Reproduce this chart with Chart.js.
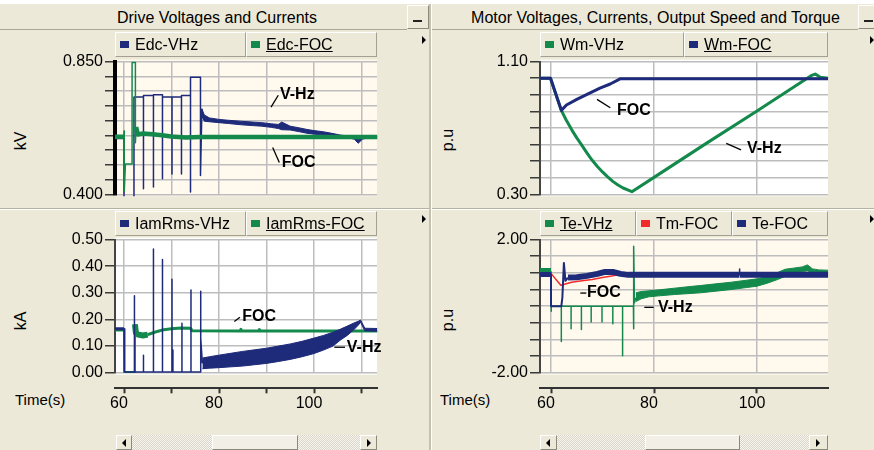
<!DOCTYPE html>
<html>
<head>
<meta charset="utf-8">
<title>Drive Voltages and Currents</title>
<script src="https://cdn.jsdelivr.net/npm/chart.js@4.4.1/dist/chart.umd.min.js"></script>
<style>
  html, body { margin: 0; padding: 0; background: #fff; }
  #frame {
    position: relative; width: 874px; height: 450px; overflow: hidden;
    background: #ECE9D8; color: #000;
    font-family: "Liberation Sans", Arial, sans-serif; font-size: 16px;
  }
  #frame > * { position: absolute; }
  .strip { left: 0; top: 0; width: 874px; height: 4px; background: #fff; }
  .bar { top: 4px; height: 25px; border-bottom: 1px solid #A9A695; }
  .caption { top: 8px; height: 20px; line-height: 20px; text-align: center; white-space: nowrap; }
  .btn { box-sizing: border-box; border: 1px solid; border-color: #fff #8D8A7C #8D8A7C #fff; background: #ECE9D8; }
  .minus { top: 5px; height: 24px; }
  .minus::after { content: ""; position: absolute; left: 5px; top: 14px; width: 9px; height: 2px; background: #222; }
  .vdiv { top: 4px; height: 446px; width: 2px; background: #C4C1B0; border-right: 1px solid #fff; }
  .hdiv { left: 0; width: 874px; height: 1px; background: #B5B2A2; border-bottom: 1px solid #fff; }
  .leg { box-sizing: border-box; height: 25px; border: 1px solid; border-color: #fff #A3A092 #A3A092 #fff; white-space: nowrap; }
  .leg i { position: absolute; left: 4px; top: 8px; width: 9px; height: 7px; }
  .leg span { position: absolute; left: 19px; top: 1px; line-height: 21px; }
  .menu { width: 0; height: 0; border-top: 4px solid transparent; border-bottom: 4px solid transparent; border-left: 4px solid #000; }
  .ytitle { width: 40px; height: 20px; line-height: 20px; text-align: center; transform: rotate(-90deg); }
  .time { font-size: 15px; line-height: 20px; }
  .scroll { top: 435px; height: 15px; background: repeating-conic-gradient(#F7F6F1 0 25%, #D9D6C9 0 50%) 0 0 / 2px 2px; }
  .scroll > div { position: absolute; top: 0; height: 15px; }
  .thumb { background: #F2F0E6 !important; }
  .arrow { position: absolute; top: 3px; width: 0; height: 0; border-top: 4px solid transparent; border-bottom: 4px solid transparent; }
  .arrow.l { left: 5px; border-right: 4px solid #000; }
  .arrow.r { left: 6px; border-left: 4px solid #000; }
</style>
</head>
<body>
<div id="frame">
  <div class="strip"></div>
  <div class="bar" style="left:0;width:407px"></div>
  <div class="bar" style="left:432px;width:426px"></div>
  <div class="caption" style="left:0;width:434px">Drive Voltages and Currents</div>
  <div class="caption" style="left:432px;width:447px">Motor Voltages, Currents, Output Speed and Torque</div>
  <div class="btn minus" style="left:407px;width:22px"></div>
  <div class="btn minus" style="left:858px;width:20px"></div>
  <div class="hdiv" style="top:208px"></div>
  <div class="vdiv" style="left:429px"></div>

  <div class="menu" style="left:422px;top:36px"></div>
  <div class="menu" style="left:422px;top:215px"></div>
  <div class="menu" style="left:870px;top:36px"></div>
  <div class="menu" style="left:870px;top:215px"></div>

  <div class="ytitle" style="left:1px;top:131px">kV</div>
  <div class="ytitle" style="left:1px;top:311px">kA</div>
  <div class="ytitle" style="left:428px;top:130px">p.u</div>
  <div class="ytitle" style="left:428px;top:310px">p.u</div>

  <div class="time" style="left:15px;top:390px">Time(s)</div>
  <div class="time" style="left:440px;top:390px">Time(s)</div>

  <div class="scroll" style="left:116px;width:261px">
    <div class="btn" style="left:0;width:16px"><b class="arrow l"></b></div>
    <div class="btn thumb" style="left:96px;width:86px"></div>
    <div class="btn" style="left:244px;width:17px"><b class="arrow r"></b></div>
  </div>
  <div class="scroll" style="left:540px;width:288px">
    <div class="btn" style="left:0;width:17px"><b class="arrow l"></b></div>
    <div class="btn thumb" style="left:105px;width:95px"></div>
    <div class="btn" style="left:269px;width:19px"><b class="arrow r"></b></div>
  </div>

  <canvas id="cEdc" width="432" height="158" style="left:0;top:50px"></canvas>
  <canvas id="cWm" width="442" height="158" style="left:432px;top:50px"></canvas>
  <canvas id="cIam" width="432" height="192" style="left:0;top:228px"></canvas>
  <canvas id="cTe" width="442" height="192" style="left:432px;top:228px"></canvas>
</div>

<script>
const FONT = "'Liberation Sans', Arial, sans-serif";
const NAVY = '#1E2A7A';
const GREEN = '#14894C';
const RED = '#F22A2A';
const GRID = '#BDBDBD';

Chart.defaults.font.family = FONT;
Chart.defaults.font.size = 16;
Chart.defaults.color = '#000';

// ---- axes ----
const leftGridT = [60, 70, 80, 90, 100, 110];
const leftTimeLabels = ['60', '', '80', '', '100', ''];
const rightGridT = [60, 80, 100];
const rightTimeLabels = ['60', '80', '100'];

const edcTicks = [0.40, 0.45, 0.50, 0.55, 0.60, 0.65, 0.70, 0.75, 0.80, 0.85];
const edcTickLabels = ['0.400', '', '', '', '', '', '', '', '', '0.850'];
const iamTicks = [0, 0.1, 0.2, 0.3, 0.4, 0.5];
const iamTickLabels = ['0.00', '0.10', '0.20', '0.30', '0.40', '0.50'];
const wmTicks = [0.3, 0.4, 0.5, 0.6, 0.7, 0.8, 0.9, 1.0, 1.1];
const wmTickLabels = ['0.30', '', '', '', '', '', '', '', '1.10'];
const teTicks = [-2, -1.5, -1, -0.5, 0, 0.5, 1, 1.5, 2];
const teTickLabels = ['-2.00', '', '', '', '', '', '', '', '2.00'];

const edcLegend = ['Edc-VHz', 'Edc-FOC'];
const iamLegend = ['IamRms-VHz', 'IamRms-FOC'];
const wmLegend = ['Wm-VHz', 'Wm-FOC'];
const teLegend = ['Te-VHz', 'Tm-FOC', 'Te-FOC'];

// ---- Edc (kV) ----
const edcVhz = [[58.1, 0.592], [60.0, 0.592], [60.0, 0.38], [62.1, 0.38], [62.1, 0.730], [64.1, 0.730],
  [64.1, 0.419], [64.1, 0.735], [66.2, 0.735], [66.2, 0.425], [66.2, 0.738], [68.1, 0.738],
  [68.1, 0.453], [68.1, 0.730], [70.1, 0.730], [70.1, 0.469], [70.1, 0.730], [72.1, 0.730],
  [72.1, 0.469], [72.1, 0.735], [74.0, 0.735], [74.0, 0.408], [74.0, 0.797], [76.1, 0.797],
  [76.1, 0.464], [76.4, 0.690]];
const edcVhzBandT = [76.4, 76.9, 78, 80, 82, 84.5, 87, 89, 91, 92.5, 93.2, 95, 97, 98.5, 100, 102, 104, 105.5, 107, 108.5, 109.3, 110.2, 111, 113.3];
const edcVhzBandHi = [0.690, 0.669, 0.659, 0.654, 0.651, 0.648, 0.645, 0.643, 0.639, 0.637, 0.645, 0.631, 0.625, 0.620, 0.616, 0.612, 0.606, 0.601, 0.598, 0.594, 0.585, 0.594, 0.596, 0.596];
const edcVhzBandLo = [0.665, 0.648, 0.646, 0.643, 0.640, 0.636, 0.633, 0.631, 0.627, 0.623, 0.619, 0.618, 0.612, 0.607, 0.604, 0.601, 0.598, 0.595, 0.592, 0.587, 0.573, 0.587, 0.590, 0.590];
const edcFoc = [[58.1, 0.595], [59.95, 0.595], [60.0, 0.615], [60.05, 0.410], [60.3, 0.503], [61.7, 0.503],
  [61.7, 0.847], [62.4, 0.847], [62.4, 0.575], [62.55, 0.628], [62.9, 0.603], [64, 0.606], [66, 0.604],
  [68, 0.600], [70, 0.596], [73, 0.593], [76, 0.594], [113.3, 0.594]];

// ---- IamRms (kA) ----
const iamVhz = [[58.1, 0.165], [60.0, 0.165], [60.0, 0.003], [60.2, 0.003], [60.2, 0.065], [60.2, 0.003],
  [62.2, 0.003], [62.2, 0.289], [62.2, 0.003], [64.1, 0.003], [64.1, 0.066], [64.1, 0.003],
  [66.2, 0.003], [66.2, 0.465], [66.2, 0.003], [68.1, 0.003], [68.1, 0.425], [68.1, 0.003],
  [70.1, 0.003], [70.1, 0.351], [70.1, 0.003], [70.3, 0.003], [70.3, 0.085], [70.3, 0.003],
  [72.2, 0.003], [72.2, 0.186], [72.2, 0.003], [74.1, 0.003], [74.1, 0.311], [74.1, 0.003],
  [76.1, 0.003], [76.1, 0.306], [76.2, 0.130], [76.5, 0.035]];
const iamVhzBandT = [76.5, 78, 80, 82.5, 85, 87.5, 90, 92.5, 95, 97.5, 100, 102, 104, 105.5, 107, 108.3, 109.3, 109.8, 110.7, 113.3];
const iamVhzBandHi = [0.055, 0.060, 0.066, 0.073, 0.080, 0.086, 0.092, 0.100, 0.108, 0.118, 0.130, 0.140, 0.152, 0.163, 0.175, 0.186, 0.193, 0.198, 0.167, 0.166];
const iamVhzBandLo = [0.015, 0.017, 0.019, 0.022, 0.025, 0.030, 0.035, 0.042, 0.050, 0.060, 0.072, 0.085, 0.100, 0.122, 0.140, 0.160, 0.178, 0.190, 0.157, 0.156];
const iamFoc = [[58.1, 0.160], [60.0, 0.160], [60.0, 0.003], [62.3, 0.003], [62.3, 0.182], [62.5, 0.150],
  [63, 0.143], [64, 0.140], [65, 0.143], [66, 0.149], [67, 0.155], [68, 0.160], [70, 0.165],
  [72, 0.168], [74, 0.167], [74.3, 0.158], [84.5, 0.157], [84.6, 0.163], [84.8, 0.157],
  [88.4, 0.157], [88.5, 0.162], [88.7, 0.157], [113.3, 0.157]];

// ---- Wm (p.u) ----
const wmVhz = [[57.86, 1.0], [59.9, 1.0], [62.0, 0.806], [63, 0.745], [64, 0.69], [65, 0.64], [66, 0.595],
  [67, 0.548], [68, 0.505], [69, 0.468], [70, 0.435], [71, 0.405], [72, 0.378], [73, 0.356],
  [74, 0.338], [75, 0.325], [75.7, 0.316], [80, 0.402], [90, 0.604], [100, 0.802],
  [110.5, 1.015], [111.3, 1.025], [112.3, 1.005], [113.8, 1.0]];
const wmFoc = [[57.86, 1.0], [59.9, 1.0], [62.0, 0.806], [63, 0.838], [65, 0.872], [67, 0.902],
  [69.5, 0.94], [71.5, 0.965], [73.5, 0.997], [113.8, 0.997]];

// ---- Torque (p.u) ----
const teVhz = [[57.86, 1.03], [60.0, 1.03], [60.0, -0.15], [60.1, 0.0], [62.0, 0.0], [62.0, -1.06], [62.0, 0.0],
  [63.9, 0.0], [63.9, -0.68], [63.9, 0.0], [65.9, 0.0], [65.9, -0.70], [65.9, 0.0],
  [67.8, 0.0], [67.8, -0.48], [67.8, 0.0], [69.9, 0.0], [69.9, -0.48], [69.9, 0.0],
  [72.0, 0.0], [72.0, -0.53], [72.0, 0.0], [73.9, 0.0], [73.9, -1.49], [73.9, 0.0],
  [76.0, 0.0], [76.0, -0.68], [76.1, 1.80], [76.2, 0.10], [76.5, 0.25]];
const teVhzBandT = [76.5, 77.5, 79, 81, 84, 87, 89, 92, 95, 98, 100, 102, 104, 105.5, 107, 108.8, 109.8, 110.8, 112, 113.8];
const teVhzBandHi = [0.40, 0.44, 0.46, 0.49, 0.54, 0.59, 0.62, 0.67, 0.72, 0.78, 0.82, 0.89, 1.01, 1.11, 1.14, 1.18, 1.24, 1.12, 1.09, 1.08];
const teVhzBandLo = [0.14, 0.22, 0.28, 0.31, 0.35, 0.38, 0.40, 0.45, 0.50, 0.56, 0.60, 0.69, 0.80, 0.90, 0.96, 1.04, 1.06, 1.01, 1.00, 1.02];
const tmFoc = [[57.86, 1.0], [59.9, 1.0], [61.9, 0.63], [62.6, 0.66], [64, 0.72], [66, 0.76], [68, 0.80],
  [70, 0.86], [71.5, 0.90], [73, 0.94], [75, 0.95], [113.8, 0.95]];
const teFoc = [[57.86, 0.95], [60.0, 0.95], [60.0, 0.0], [62.0, 0.0], [62.2, 0.25], [62.5, 1.30], [62.8, 0.76],
  [63.3, 0.86], [65, 0.87], [67, 0.91], [69, 0.97], [70.5, 1.03], [72, 1.03], [73.5, 0.97],
  [75, 0.94], [96.55, 0.94], [96.6, 1.12], [96.65, 0.94], [113.8, 0.94]];

// ---- labels drawn on the plots (data coordinates) ----
const edcNotes = [
  { text: 'V-Hz', at: [92.84, 0.739], from: [90.95, 0.6955], to: [92.48, 0.7358] },
  { text: 'FOC', at: [93.2, 0.506], from: [91.3, 0.559], to: [92.7, 0.508] }
];
const iamNotes = [
  { text: 'FOC', at: [84.9, 0.211], from: [83.22, 0.1923], to: [84.4, 0.2083] },
  { text: 'V-Hz', at: [106.9, 0.0956], from: [104.28, 0.0956], to: [106.53, 0.0956] }
];
const wmNotes = [
  { text: 'FOC', at: [72.82, 0.805], from: [68.93, 0.872], to: [71.51, 0.822] },
  { text: 'V-Hz', at: [98.06, 0.573], from: [94.04, 0.607], to: [96.9, 0.568] }
];
const teNotes = [
  { text: 'FOC', at: [66.99, 0.393], from: [65.69, 0.393], to: [66.85, 0.393] },
  { text: 'V-Hz', at: [80.77, -0.036], from: [78.12, -0.036], to: [79.94, -0.036] }
];

// ---- helpers ----
const xy = arr => arr.map(([x, y]) => ({ x, y }));
const zip = (t, v) => t.map((x, i) => ({ x, y: v[i] }));

// width stops: [[xEnd, width], ...] picked by the segment's mid time
function widthAt(stops, x) {
  for (const [end, w] of stops) if (x < end) return w;
  return stops[stops.length - 1][1];
}

function trace(data, color, stops) {
  return {
    data: xy(data), borderColor: color, backgroundColor: color,
    borderWidth: stops[stops.length - 1][1],
    segment: { borderWidth: c => widthAt(stops, (c.p0.parsed.x + c.p1.parsed.x) / 2) },
    borderJoinStyle: 'round', pointRadius: 0, fill: false, clip: 2, xAxisID: 'x', yAxisID: 'y'
  };
}

function band(t, hi, lo, color) {
  const base = { borderColor: color, backgroundColor: color, borderWidth: 1, pointRadius: 0, clip: 2, xAxisID: 'x', yAxisID: 'y' };
  return [
    Object.assign({ data: zip(t, hi), fill: false }, base),
    Object.assign({ data: zip(t, lo), fill: '-1' }, base)
  ];
}

function scales(o) {
  const s = {
    x: {
      type: 'linear', axis: 'x', position: 'bottom', weight: 0, min: o.tMin, max: o.tMax, bounds: 'data',
      afterBuildTicks: sc => { sc.ticks = o.grid.map(value => ({ value })); },
      afterFit: sc => { sc.height = o.gap; },
      ticks: { display: false, autoSkip: false },
      grid: { color: GRID, lineWidth: 1.5, drawTicks: false },
      border: { display: false }
    },
    y: {
      type: 'linear', min: o.yTicks[0], max: o.yTicks[o.yTicks.length - 1], bounds: 'data',
      afterBuildTicks: sc => { sc.ticks = o.yTicks.map(value => ({ value })); },
      afterFit: sc => { sc.width = o.yWidth; },
      ticks: { autoSkip: false, padding: 2, callback: (v, i) => o.yLabels[i] },
      grid: { color: GRID, lineWidth: 1.5, tickLength: 10, tickColor: '#3A3A3A', tickWidth: 1.5 },
      border: { color: o.axisColor, width: o.axisWidth }
    }
  };
  if (o.timeLabels) {
    s.xt = {
      type: 'linear', axis: 'x', position: 'bottom', weight: 1, min: o.tMin, max: o.tMax, bounds: 'data',
      afterBuildTicks: sc => { sc.ticks = o.grid.map(value => ({ value })); },
      afterFit: sc => { sc.height = 30; },
      ticks: { autoSkip: false, maxRotation: 0, padding: 1, labelOffset: -5, callback: (v, i) => o.timeLabels[i] },
      grid: { drawOnChartArea: false, tickLength: 5, tickColor: '#333', tickWidth: 2 },
      border: { color: '#333', width: 2 }
    };
  }
  return s;
}

function decor(bg, notes) {
  return {
    id: 'decor',
    beforeDraw(chart) {
      const { ctx, chartArea: a } = chart;
      ctx.save();
      ctx.fillStyle = bg;
      ctx.fillRect(a.left, a.top - 2, a.right - a.left, a.bottom - a.top + 4);
      ctx.restore();
    },
    afterDatasetsDraw(chart) {
      const { ctx, scales: { x, y } } = chart;
      ctx.save();
      ctx.strokeStyle = '#000';
      ctx.fillStyle = '#000';
      ctx.lineWidth = 1.3;
      ctx.font = 'bold 16px ' + FONT;
      ctx.textBaseline = 'middle';
      notes.forEach(n => {
        ctx.beginPath();
        ctx.moveTo(x.getPixelForValue(n.from[0]), y.getPixelForValue(n.from[1]));
        ctx.lineTo(x.getPixelForValue(n.to[0]), y.getPixelForValue(n.to[1]));
        ctx.stroke();
        ctx.fillText(n.text, x.getPixelForValue(n.at[0]), y.getPixelForValue(n.at[1]));
      });
      ctx.restore();
    }
  };
}

function makeChart(id, datasets, sc, padding, bg, notes) {
  return new Chart(document.getElementById(id), {
    type: 'line',
    data: { datasets },
    options: {
      responsive: false, animation: false, devicePixelRatio: 1, events: [],
      layout: { padding },
      plugins: { legend: { display: false }, tooltip: { enabled: false } },
      scales: sc
    },
    plugins: [decor(bg, notes)]
  });
}

function legend(names, colors, underline, left, right, top) {
  const frame = document.getElementById('frame');
  const w = (right - left) / names.length;
  names.forEach((name, i) => {
    const box = document.createElement('div');
    box.className = 'leg';
    box.style.left = (left + i * w) + 'px';
    box.style.width = w + 'px';
    box.style.top = top + 'px';
    const sq = document.createElement('i');
    sq.style.background = colors[i];
    const tx = document.createElement('span');
    tx.textContent = name;
    if (i === underline) tx.style.textDecoration = 'underline';
    box.append(sq, tx);
    frame.appendChild(box);
  });
}

legend(edcLegend, [NAVY, GREEN], 1, 115, 377, 32);
legend(iamLegend, [NAVY, GREEN], 1, 115, 377, 211);
legend(wmLegend, [GREEN, NAVY], 1, 540, 828, 32);
legend(teLegend, [GREEN, RED, NAVY], 0, 540, 828, 211);

const LEFT_T = { tMin: 58.105, tMax: 113.26, grid: leftGridT, yWidth: 115 };
const RIGHT_T = { tMin: 57.86, tMax: 113.79, grid: rightGridT, yWidth: 108 };

makeChart('cEdc', [
  trace(edcFoc, GREEN, [[59.97, 4.5], [62.5, 1.5], [Infinity, 4.5]]),
  trace(edcVhz, NAVY, [[59.99, 3], [Infinity, 1.5]]),
  ...band(edcVhzBandT, edcVhzBandHi, edcVhzBandLo, NAVY)
], scales(Object.assign({ gap: 0, yTicks: edcTicks, yLabels: edcTickLabels, axisColor: '#000', axisWidth: 4 }, LEFT_T)),
  { top: 10, bottom: 13.7, left: 0, right: 55 }, '#FFF9EE', edcNotes);

makeChart('cIam', [
  trace(iamVhz, NAVY, [[59.99, 3], [Infinity, 1.5]]),
  ...band(iamVhzBandT, iamVhzBandHi, iamVhzBandLo, NAVY),
  trace(iamFoc, GREEN, [[59.99, 3], [62.31, 2], [65, 6], [Infinity, 3]])
], scales(Object.assign({ gap: 15.6, yTicks: iamTicks, yLabels: iamTickLabels, axisColor: '#444', axisWidth: 2, timeLabels: leftTimeLabels }, LEFT_T)),
  { top: 10.3, bottom: 1.7, left: 0, right: 55 }, '#FFFFFF', iamNotes);

makeChart('cWm', [
  trace(wmFoc, NAVY, [[Infinity, 3]]),
  trace(wmVhz, GREEN, [[Infinity, 3]])
], scales(Object.assign({ gap: 0, yTicks: wmTicks, yLabels: wmTickLabels, axisColor: '#444', axisWidth: 2 }, RIGHT_T)),
  { top: 10, bottom: 13.7, left: 0, right: 46 }, '#FFFFFF', wmNotes);

makeChart('cTe', [
  trace(teFoc, NAVY, [[59.99, 5], [63.3, 2], [96.5, 6], [96.7, 1.5], [Infinity, 6]]),
  trace(tmFoc, RED, [[Infinity, 1.5]]),
  trace(teVhz, GREEN, [[59.99, 8], [Infinity, 1.5]]),
  ...band(teVhzBandT, teVhzBandHi, teVhzBandLo, GREEN)
], scales(Object.assign({ gap: 15.6, yTicks: teTicks, yLabels: teTickLabels, axisColor: '#444', axisWidth: 2, timeLabels: rightTimeLabels }, RIGHT_T)),
  { top: 10.3, bottom: 1.7, left: 0, right: 46 }, '#FFF9EE', teNotes);
</script>
</body>
</html>
